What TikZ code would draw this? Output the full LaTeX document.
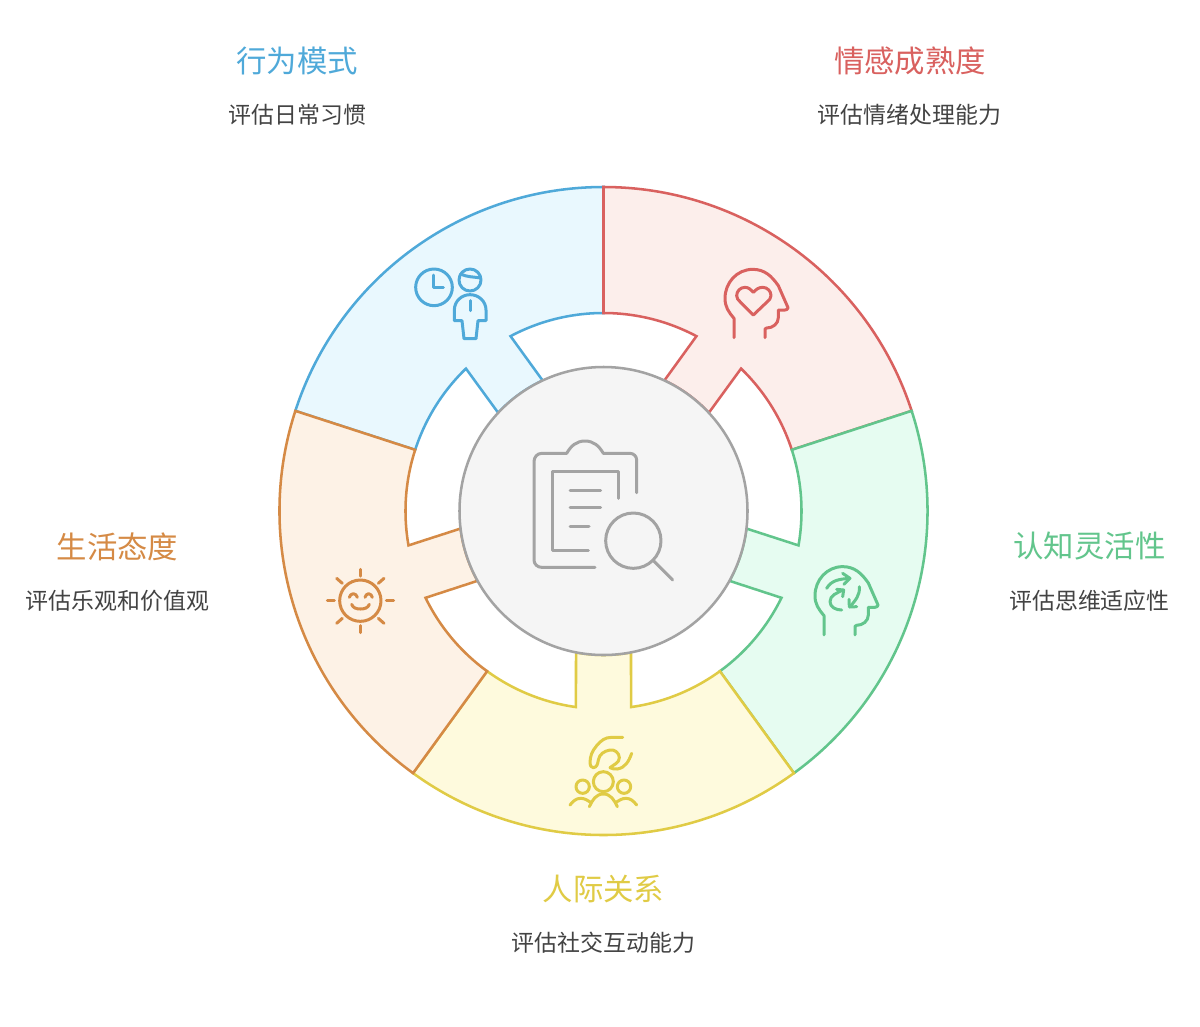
\documentclass[tikz,border=0pt]{standalone}
\usepackage{fontspec}
\setmainfont{Noto Sans CJK SC}
\definecolor{bluS}{HTML}{4FA9D9}\definecolor{bluF}{HTML}{E9F8FE}
\definecolor{redS}{HTML}{D9615F}\definecolor{redF}{HTML}{FCEEEB}
\definecolor{grnS}{HTML}{62C58C}\definecolor{grnF}{HTML}{E6FCF1}
\definecolor{yelS}{HTML}{E0CB45}\definecolor{yelF}{HTML}{FEFADD}
\definecolor{ornS}{HTML}{D58A45}\definecolor{ornF}{HTML}{FDF2E6}
\definecolor{gryS}{HTML}{A3A3A3}\definecolor{gryF}{HTML}{F5F5F5}
\definecolor{txt}{HTML}{434343}
\tikzset{
  seg/.style={line width=1.9pt,miter limit=10},
  ico/.style={line width=2.25pt,line cap=round,line join=round},
  title/.style={font=\fontsize{22.8pt}{26pt}\selectfont,inner sep=0pt,anchor=center},
  sub/.style={font=\fontsize{17.2pt}{20pt}\selectfont,text=txt,inner sep=0pt,anchor=center},
}
\newcommand{\ringseg}[3]{%
  \filldraw[seg,draw=#2,fill=#3]
    ({-(#1)}:324) arc[start angle={-(#1)},end angle={-(#1)+72},radius=324]
    -- ({-(#1)+72}:198) arc[start angle={-(#1)+72},end angle={-(#1)+44},radius=198]
    -- ({-(#1)+47}:144) arc[start angle={-(#1)+47},end angle={-(#1)+25},radius=144]
    -- ({-(#1)+28}:198) arc[start angle={-(#1)+28},end angle={-(#1)},radius=198]
    -- cycle;}
\newcommand{\headicon}{%
  (72,248) -- (72,190) to[out=130,in=-90] (45,130) to[out=90,in=180] (128,43) to[out=0,in=125] (205,92) -- (234,158) to[out=-80,in=10] (225,165) -- (205,165) -- (205,188) to[out=-90,in=0] (170,219) -- (165,222) -- (165,248)}
\begin{document}
\begin{tikzpicture}[x=0.75pt,y=-0.75pt]
\useasboundingbox (0,0) rectangle (1200,1026);
\fill[white] (0,0) rectangle (1200,1026);
\begin{scope}[shift={(603.5,511)}]
  \ringseg{162}{bluS}{bluF}
  \ringseg{90}{redS}{redF}
  \ringseg{18}{grnS}{grnF}
  \ringseg{-54}{yelS}{yelF}
  \ringseg{-126}{ornS}{ornF}
\end{scope}
\node[circle,draw=gryS,fill=gryF,line width=1.9pt,minimum size=108pt*2,inner sep=0pt] (hub) at (603.5,511) {};

% texts
\node[title,text=bluS] (t1) at (297,60.5) {行为模式};
\node[sub] (s1) at (297.5,114.5) {评估日常习惯};
\node[title,text=redS] (t2) at (910,60.5) {情感成熟度};
\node[sub] (s2) at (909.5,114.5) {评估情绪处理能力};
\node[title,text=grnS] (t3) at (1089.5,546.5) {认知灵活性};
\node[sub] (s3) at (1089.5,600.5) {评估思维适应性};
\node[title,text=yelS] (t4) at (603.5,888.5) {人际关系};
\node[sub] (s4) at (603.5,942.5) {评估社交互动能力};
\node[title,text=ornS] (t5) at (117.5,546.5) {生活态度};
\node[sub] (s5) at (117.5,600.5) {评估乐观和价值观};

% blue icon
\begin{scope}[shift={(400,250)}]\begin{scope}[x=0.25pt,y=-0.25pt,ico,draw=bluS]
  \draw (102,112) circle[radius=55];
  \draw (100,75) -- (100,112) -- (130,112);
  \draw (210,90) circle[radius=33];
  \draw (182,72) to[out=-25,in=170] (242,84);
  \draw (186,212) -- (163,212) -- (163,180) to[out=90,in=180] (210,134) to[out=0,in=90] (258,180) -- (258,212) -- (234,212) -- (228,266) -- (192,266) -- cycle;
  \draw (210,152) -- (210,182);
\end{scope}\end{scope}

% red icon
\begin{scope}[shift={(710,255)}]\begin{scope}[x=0.25pt,y=-0.25pt,ico,draw=redS]
  \draw \headicon;
  \draw (130,180) -- (90,140) to[out=135,in=-90] (80,122) to[out=90,in=180] (105,97) to[out=0,in=135] (130,112) to[out=45,in=180] (158,97) to[out=0,in=90] (183,122) to[out=-90,in=45] (172,140) -- cycle;
\end{scope}\end{scope}

% green icon
\begin{scope}[shift={(800,552.3)}]\begin{scope}[x=0.25pt,y=-0.25pt,ico,draw=grnS]
  \draw \headicon;
\end{scope}\end{scope}
\begin{scope}[shift={(800,555)}]\begin{scope}[x=0.25pt,y=-0.25pt,ico,draw=grnS]
  \draw (80,100) to[out=60,in=185] (148,70);
  \draw (128,55) -- (150,70) -- (132,88);
  \draw (125,165) to[out=180,in=-90] (90,140) to[out=90,in=210] (128,105);
  \draw (110,103) -- (131,105) -- (128,125);
  \draw (178,95) to[out=-85,in=50] (150,155);
  \draw (147,133) -- (148,156) -- (170,155);
\end{scope}\end{scope}

% yellow icon
\begin{scope}[shift={(560,725)}]\begin{scope}[x=0.25pt,y=-0.25pt,ico,draw=yelS]
  \draw (188,37) -- (155,37) to[out=180,in=50] (110,62) to[out=230,in=90] (90,115) to[out=-90,in=180] (100,128) to[out=0,in=-100] (115,105) to[out=80,in=190] (150,75) to[out=10,in=90] (178,98) to[out=-90,in=40] (150,128) to[out=-20,in=190] (172,132) to[out=10,in=-110] (215,85);
  \draw (68,185) circle[radius=20];
  \draw (130,170) circle[radius=30];
  \draw (192,185) circle[radius=20];
  \draw (30,240) to[out=50,in=180] (62,220) to[out=0,in=150] (92,232);
  \draw (88,245) to[out=65,in=180] (130,207) to[out=0,in=115] (172,245);
  \draw (168,232) to[out=30,in=180] (198,220) to[out=0,in=130] (230,240);
\end{scope}\end{scope}

% orange icon
\begin{scope}[shift={(315,560)}]\begin{scope}[x=0.25pt,y=-0.25pt,ico,draw=ornS]
  \draw (136,122) circle[radius=62];
  \draw (136,28) -- (136,48);
  \draw (136,197) -- (136,218);
  \draw (37,122) -- (58,122);
  \draw (214,122) -- (236,122);
  \draw (65,55) -- (82,70);
  \draw (207,55) -- (190,70);
  \draw (65,190) -- (82,175);
  \draw (207,190) -- (190,175);
  \draw (103,112) to[out=70,in=180] (115,101) to[out=0,in=110] (127,112);
  \draw (150,112) to[out=70,in=180] (161,101) to[out=0,in=110] (172,112);
  \draw (110,133) to[out=-70,in=180] (136,147) to[out=0,in=-110] (163,133);
\end{scope}\end{scope}

% centre icon
\begin{scope}[shift={(520,430)}]\begin{scope}[x=0.25pt,y=-0.25pt,ico,draw=gryS]
  \draw (225,412) -- (65,412) to[out=180,in=-90] (42,390) -- (42,95) to[out=90,in=180] (65,70) -- (140,70) to[out=60,in=180] (195,33) to[out=0,in=120] (250,70) -- (330,70) to[out=0,in=90] (350,90) -- (350,188);
  \draw (295,205) -- (295,125) -- (97,125) -- (97,360) -- (205,360);
  \draw (150,180) -- (242,180);
  \draw (150,233) -- (242,233);
  \draw (150,288) -- (207,288);
  \draw (340,332) circle[radius=83];
  \draw (400,392) -- (458,450);
\end{scope}\end{scope}
\end{tikzpicture}
\end{document}
